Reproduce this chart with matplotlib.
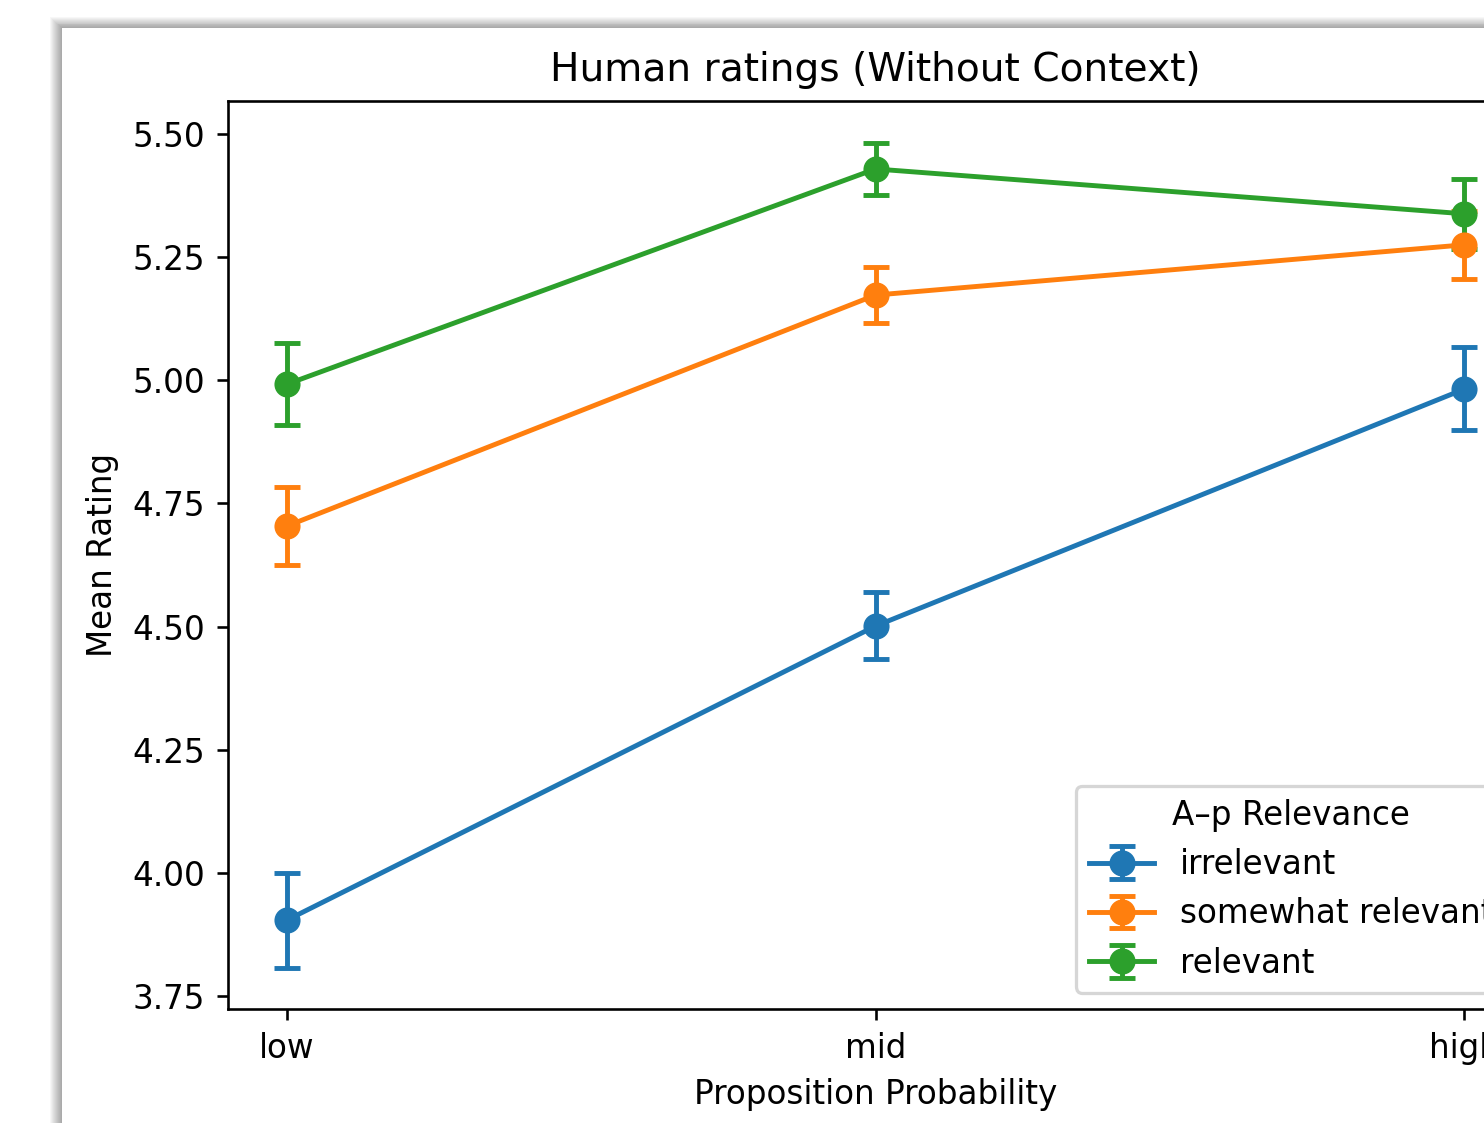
import matplotlib
matplotlib.use("Agg")
import matplotlib.pyplot as plt
from matplotlib.patches import Rectangle

categories = ["low", "mid", "high"]
series_names = ["irrelevant", "somewhat relevant", "relevant"]
means = {
    "irrelevant": [3.904, 4.501, 4.982],
    "somewhat relevant": [4.704, 5.173, 5.275],
    "relevant": [4.992, 5.429, 5.338],
}
ci_low = {
    "irrelevant": [3.807, 4.434, 4.899],
    "somewhat relevant": [4.625, 5.116, 5.206],
    "relevant": [4.909, 5.376, 5.267],
}
ci_high = {
    "irrelevant": [4.000, 4.570, 5.068],
    "somewhat relevant": [4.783, 5.230, 5.344],
    "relevant": [5.076, 5.482, 5.409],
}
colors = ["#1f77b4", "#ff7f0e", "#2ca02c"]

W, H = 1484, 1123
DPI = 235
fig = plt.figure(figsize=(W / DPI, H / DPI), dpi=DPI)
fig.patch.set_facecolor("white")

# page shadow (screenshot look)
page_x, page_y = 62, 28
n = 12
for k in range(n, 0, -1):
    fig.patches.append(Rectangle(((page_x - k) / W, 0), 1.2, (H - page_y + k * 0.9) / H,
                                 transform=fig.transFigure, facecolor="black",
                                 alpha=0.03, edgecolor="none", zorder=-3))
fig.patches.append(Rectangle((page_x / W, 0), 1.2, (H - page_y) / H,
                             transform=fig.transFigure, facecolor="white",
                             edgecolor="none", zorder=-2))

ax = fig.add_axes([228 / W, 1 - 1009 / H, 1295 / W, 908 / H])
ax.set_facecolor("none")
x = list(range(len(categories)))
for name, c in zip(series_names, colors):
    m = means[name]
    lo = [mm - l for mm, l in zip(m, ci_low[name])]
    hi = [h - mm for mm, h in zip(m, ci_high[name])]
    ax.errorbar(x, m, yerr=[lo, hi], fmt="-o", color=c, capsize=4,
                markersize=7, linewidth=1.5, elinewidth=1.5, capthick=1.5,
                label=name)

ax.set_xticks(x)
ax.set_xticklabels(categories)
ax.set_xlim(-0.1, 2.1)
ax.set_ylim(3.7236, 5.567)
yt = [3.75, 4.0, 4.25, 4.5, 4.75, 5.0, 5.25, 5.5]
ax.set_yticks(yt)
ax.set_yticklabels([f"{v:.2f}" for v in yt])
ax.set_xlabel("Proposition Probability")
ax.set_ylabel("Mean Rating")
ax.set_title("Human ratings (Without Context)")
ax.legend(title="A\u2013p Relevance", loc="lower right")

fig.savefig("out.png", dpi=DPI)
